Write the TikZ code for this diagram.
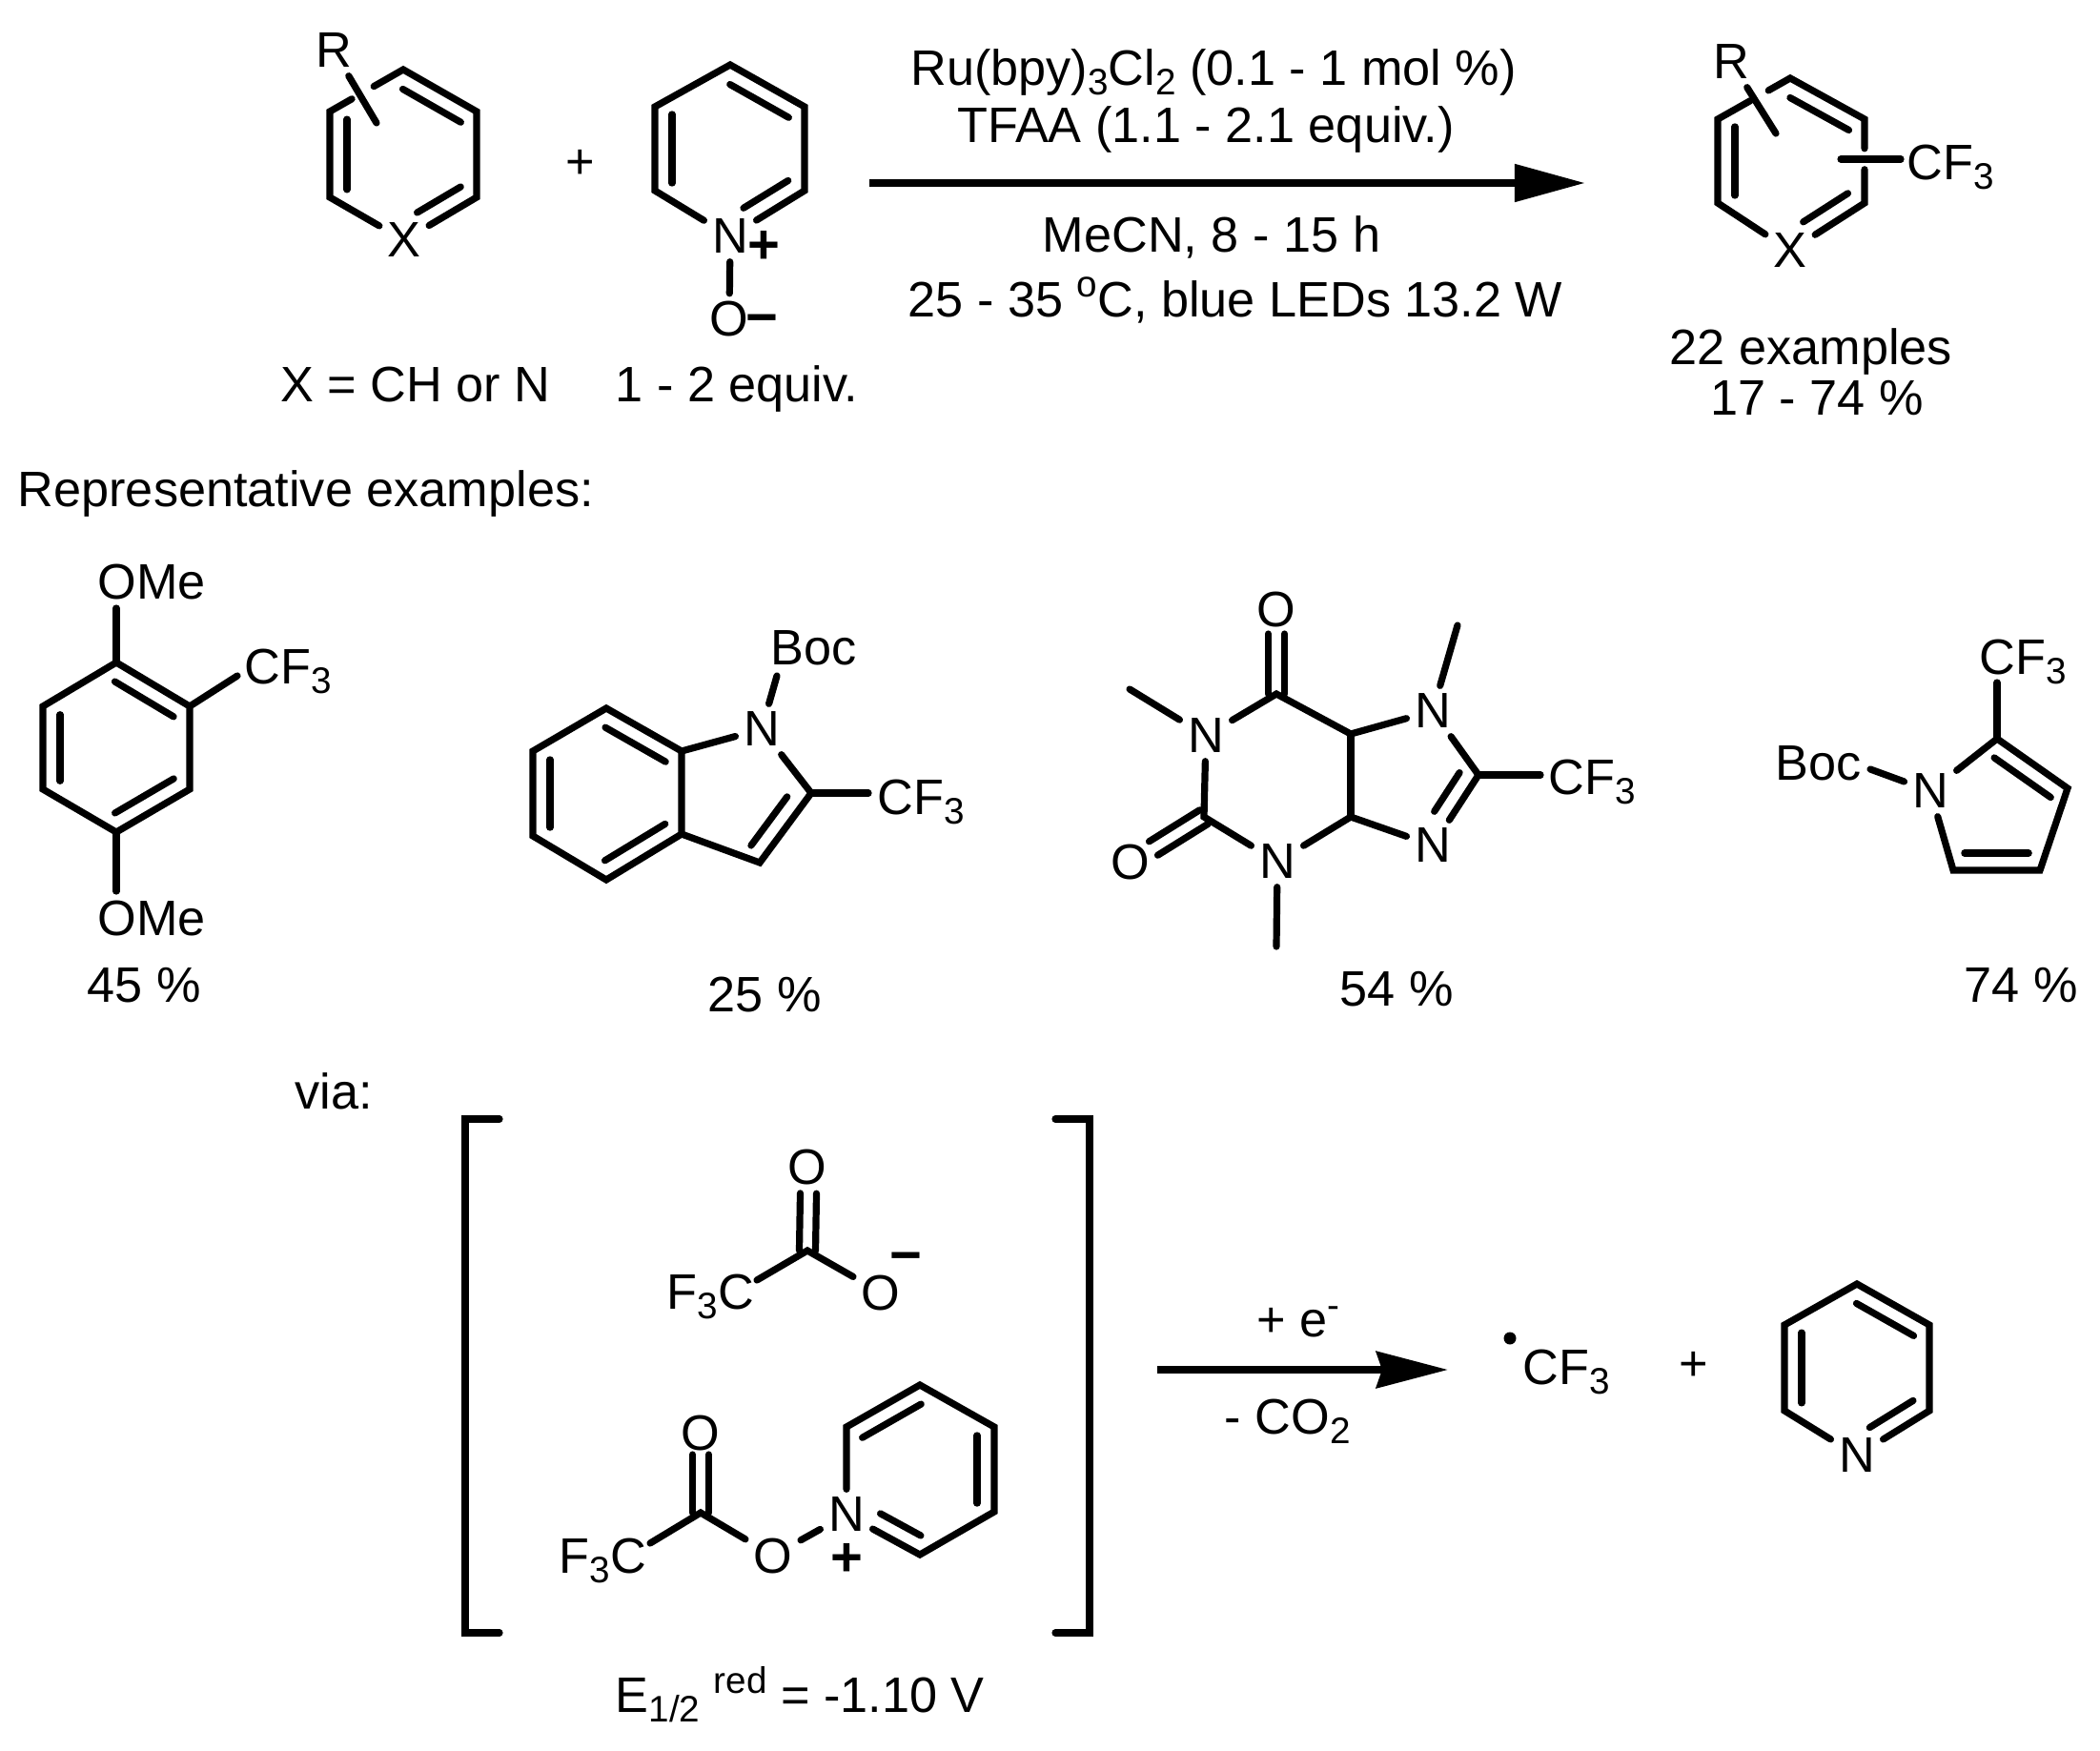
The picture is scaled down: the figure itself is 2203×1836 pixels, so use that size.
\documentclass[tikz,border=0pt]{standalone}
\usepackage{fontspec}
\setmainfont{Liberation Sans}
\usetikzlibrary{arrows.meta,calc}
\newcommand{\sbs}[1]{\raisebox{-0.1cm}{\fontsize{11}{12}\selectfont #1}}
\newcommand{\sps}[1]{\raisebox{0.2cm}{\fontsize{11}{12}\selectfont #1}}
% inner line of a ring double bond (ring walked clockwise)
\newcommand{\inbond}[4]{\draw[bond] ($(#1)!#3!(#2)!0.18cm!-90:(#2)$) -- ($(#1)!#4!(#2)!0.18cm!-90:(#2)$);}
% C=O drawn as two parallel lines
\newcommand{\twobond}[2]{
  \draw[bond] ($(#1)!0.085cm!90:(#2)$) -- ($(#2)!0.085cm!-90:(#1)$);
  \draw[bond] ($(#1)!0.085cm!-90:(#2)$) -- ($(#2)!0.085cm!90:(#1)$);
}
\tikzset{
  % text labels
  lab/.style={font=\fontsize{14.86}{17.8}\selectfont, inner sep=0pt},
  % atom letter that bonds stop at
  atom/.style={lab, inner sep=0.08cm},
  % charge signs
  chg/.style={font=\fontsize{16.5}{20}\selectfont\bfseries, inner sep=0pt},
  % bonds
  bond/.style={line width=0.072cm, line cap=round, line join=miter},
  % reaction arrows
  arr/.style={-{Triangle[length=0.74cm,width=0.38cm]}, line width=0.08cm},
  arrb/.style={-{Stealth[length=0.75cm,width=0.38cm,inset=0.06cm]}, line width=0.08cm},
}
\begin{document}
\begin{tikzpicture}[x=0.01cm,y=-0.01cm]
  \useasboundingbox (0,0) rectangle (2203,1836);

  % Arene reactant
  \coordinate (p1a) at (423,73);
  \coordinate (p1b) at (500,117);
  \coordinate (p1c) at (500,207);
  \coordinate (p1e) at (346,207);
  \coordinate (p1f) at (346,117);
  \coordinate (p1rb) at (395,129);
  \node[atom] (p1x) at (424,252) {X};
  \node[atom] (p1r) at (350,53) {R};
  \draw[bond] ($(p1f)!.6!(p1a)$) -- (p1a) -- (p1b) -- (p1c) -- (p1x);
  \draw[bond] (p1x) -- (p1e) -- (p1f) -- ($(p1f)!.3!(p1a)$);
  \draw[bond] (p1r) -- (p1rb);
  \inbond{p1a}{p1b}{.11}{.9}
  \inbond{p1c}{p1x}{.1}{.7}
  \inbond{p1e}{p1f}{.09}{.91}
  \node[lab] (plus1) at (609,172) {+};

  % Pyridine N-oxide
  \coordinate (p2a) at (766,68);
  \coordinate (p2b) at (844,112);
  \coordinate (p2c) at (844,200);
  \coordinate (p2e) at (687,200);
  \coordinate (p2f) at (687,112);
  \node[atom] (p2n) at (766,248) {N};
  \node[atom] (p2o) at (765,335) {O};
  \node[chg] (p2plus) at (801,259) {+};
  \node[chg] (p2minus) at (799,341) {−};
  \draw[bond] (p2n) -- (p2e) -- (p2f) -- (p2a) -- (p2b) -- (p2c) -- (p2n);
  \draw[bond] (p2n) -- (p2o);
  \inbond{p2a}{p2b}{.11}{.9}
  \inbond{p2c}{p2n}{.1}{.7}
  \inbond{p2e}{p2f}{.09}{.91}
  \node[lab,anchor=base] (xnote) at (436,421) {X = CH or N};
  \node[lab,anchor=base] (eqnote) at (773,421) {1 - 2 equiv.};

  % Main arrow and conditions
  \coordinate (arr1s) at (912,192);
  \coordinate (arr1e) at (1663,192);
  \draw[arr] (arr1s) -- (arr1e);
  \node[lab,anchor=base] (cond1) at (1273,89) {Ru(bpy)\sbs{3}Cl\sbs{2} (0.1 - 1 mol \%)};
  \node[lab,anchor=base] (cond2) at (1265,149) {TFAA (1.1 - 2.1 equiv.)};
  \node[lab,anchor=base] (cond3) at (1271,264) {MeCN, 8 - 15 h};
  \node[lab,anchor=base] (cond4) at (1296,332) {25 - 35 \sps{o}C, blue LEDs 13.2 W};

  % Product
  \coordinate (p3a) at (1878,82);
  \coordinate (p3b) at (1956,125);
  \coordinate (p3c) at (1956,213);
  \coordinate (p3e) at (1802,213);
  \coordinate (p3f) at (1802,125);
  \coordinate (p3rb) at (1863,140);
  \coordinate (p3s) at (1931,167);
  \coordinate (p3t) at (1994,167);
  \node[atom] (p3x) at (1878,263) {X};
  \node[atom] (p3r) at (1816,65) {R};
  \node[lab,anchor=base west] (p3cf) at (2000,188) {CF\sbs{3}};
  \draw[bond] ($(p3f)!.7!(p3a)$) -- (p3a) -- (p3b) -- ($(p3b)!.35!(p3c)$);
  \draw[bond] ($(p3b)!.6!(p3c)$) -- (p3c) -- (p3x);
  \draw[bond] (p3x) -- (p3e) -- (p3f) -- ($(p3f)!.45!(p3a)$);
  \draw[bond] (p3r) -- (p3rb);
  \draw[bond] (p3s) -- (p3t);
  \inbond{p3a}{p3b}{.11}{.9}
  \inbond{p3c}{p3x}{.1}{.7}
  \inbond{p3e}{p3f}{.09}{.91}
  \node[lab,anchor=base] (ex1) at (1900,382) {22 examples};
  \node[lab,anchor=base] (ex2) at (1906,435) {17 - 74 \%};

  \node[lab,anchor=base west] (reptitle) at (18,531) {Representative examples:};

  % Dimethoxy arene
  \coordinate (m1a) at (122,695);
  \coordinate (m1b) at (199,741);
  \coordinate (m1c) at (199,828);
  \coordinate (m1d) at (122,873);
  \coordinate (m1e) at (45,828);
  \coordinate (m1f) at (45,741);
  \coordinate (m1t) at (122,638);
  \coordinate (m1u) at (122,935);
  \coordinate (m1v) at (249,709);
  \node[lab,anchor=base west] (m1ome) at (102,628) {OMe};
  \node[lab,anchor=base west] (m1omeb) at (102,981) {OMe};
  \node[lab,anchor=base west] (m1cf) at (256,717) {CF\sbs{3}};
  \draw[bond] (m1a) -- (m1b) -- (m1c) -- (m1d) -- (m1e) -- (m1f) -- cycle;
  \draw[bond] (m1t) -- (m1a);
  \draw[bond] (m1d) -- (m1u);
  \draw[bond] (m1b) -- (m1v);
  \inbond{m1a}{m1b}{.1}{.9}
  \inbond{m1c}{m1d}{.1}{.9}
  \inbond{m1e}{m1f}{.1}{.9}
  \node[lab,anchor=base] (m1y) at (151,1051) {45 \%};

  % N-Boc indole
  \coordinate (m2a) at (636,743);
  \coordinate (m2b) at (715,788);
  \coordinate (m2c) at (715,875);
  \coordinate (m2d) at (636,923);
  \coordinate (m2e) at (559,877);
  \coordinate (m2f) at (559,788);
  \coordinate (m2g) at (851,832);
  \coordinate (m2h) at (797,905);
  \coordinate (m2i) at (911,832);
  \coordinate (m2j) at (815,709);
  \node[atom] (m2n) at (799,765) {N};
  \node[lab,anchor=base west] (m2boc) at (808,697) {Boc};
  \node[lab,anchor=base west] (m2cf) at (920,854) {CF\sbs{3}};
  \draw[bond] (m2a) -- (m2b) -- (m2c) -- (m2d) -- (m2e) -- (m2f) -- cycle;
  \draw[bond] (m2b) -- (m2n);
  \draw[bond] (m2n) -- (m2g) -- (m2h) -- (m2c);
  \draw[bond] (m2g) -- (m2i);
  \draw[bond] (m2j) -- (m2n);
  \inbond{m2a}{m2b}{.1}{.9}
  \inbond{m2c}{m2d}{.1}{.9}
  \inbond{m2e}{m2f}{.1}{.9}
  \inbond{m2g}{m2h}{.2}{.9}
  \node[lab,anchor=base] (m2y) at (802,1061) {25 \%};

  % Caffeine type product
  \coordinate (m3c2) at (1263,857);
  \coordinate (m3c4) at (1417,857);
  \coordinate (m3c5) at (1417,770);
  \coordinate (m3c6) at (1339,728);
  \coordinate (m3c8) at (1551,813);
  \coordinate (m3oa) at (1339,665);
  \coordinate (m3ob) at (1210,890);
  \coordinate (m3me1) at (1185,723);
  \coordinate (m3me3) at (1339,993);
  \coordinate (m3me7) at (1529,656);
  \coordinate (m3cfb) at (1616,813);
  \node[atom] (m3n1) at (1265,772) {N};
  \node[atom] (m3n3) at (1340,904) {N};
  \node[atom] (m3n7) at (1503,746) {N};
  \node[atom] (m3n9) at (1503,887) {N};
  \node[atom] (m3o6) at (1339,640) {O};
  \node[atom] (m3o2) at (1186,904) {O};
  \node[lab,anchor=base west] (m3cf) at (1624,833) {CF\sbs{3}};
  \draw[bond] (m3n1) -- (m3c6) -- (m3c5) -- (m3n7);
  \draw[bond] (m3n1) -- (m3c2) -- (m3n3);
  \draw[bond] (m3n3) -- (m3c4) -- (m3n9);
  \draw[bond] (m3c4) -- (m3c5);
  \draw[bond] (m3n7) -- (m3c8) -- (m3n9);
  \draw[bond] (m3c8) -- (m3cfb);
  \draw[bond] (m3n1) -- (m3me1);
  \draw[bond] (m3n3) -- (m3me3);
  \draw[bond] (m3n7) -- (m3me7);
  \twobond{m3c6}{m3oa}
  \twobond{m3c2}{m3ob}
  \inbond{m3c8}{m3n9}{.1}{.65}
  \node[lab,anchor=base] (m3y) at (1465,1055) {54 \%};

  % N-Boc pyrrole
  \coordinate (m4b) at (2095,775);
  \coordinate (m4c) at (2169,827);
  \coordinate (m4d) at (2140,913);
  \coordinate (m4e) at (2049,913);
  \coordinate (m4t) at (2095,716);
  \coordinate (m4g) at (1962,807);
  \node[atom] (m4n) at (2025,830) {N};
  \node[lab,anchor=base west] (m4cf) at (2076,707) {CF\sbs{3}};
  \node[lab,anchor=base west] (m4boc) at (1862,818) {Boc};
  \draw[bond] (m4n) -- (m4b) -- (m4c) -- (m4d) -- (m4e) -- (m4n);
  \draw[bond] (m4b) -- (m4t);
  \draw[bond] (m4g) -- (m4n);
  \inbond{m4b}{m4c}{.1}{.9}
  \inbond{m4d}{m4e}{.13}{.87}
  \node[lab,anchor=base] (m4y) at (2120,1051) {74 \%};

  \node[lab,anchor=base west] (viatext) at (309,1163) {via:};

  % Brackets
  \draw[bond] (524,1174) -- (488,1174) -- (488,1713) -- (524,1713);
  \draw[bond] (1107,1174) -- (1143,1174) -- (1143,1713) -- (1107,1713);

  % Trifluoroacetate
  \coordinate (i1c) at (847,1312);
  \coordinate (i1u) at (848,1252);
  \coordinate (i1f) at (794,1343);
  \node[atom] (i1ot) at (847,1224) {O};
  \node[atom] (i1o) at (924,1356) {O};
  \node[chg] (i1minus) at (950,1325) {−};
  \node[lab,anchor=base west] (i1fc) at (699,1373) {F\sbs{3}C};
  \twobond{i1c}{i1u}
  \draw[bond] (i1f) -- (i1c) -- (i1o);
  % Acyloxy pyridinium
  \coordinate (i2c) at (735,1587);
  \coordinate (i2u) at (735,1526);
  \coordinate (i2f) at (682,1619);
  \coordinate (i2a) at (965,1453);
  \coordinate (i2b) at (1043,1497);
  \coordinate (i2d) at (1043,1586);
  \coordinate (i2e) at (965,1631);
  \coordinate (i2g) at (888,1497);
  \node[atom] (i2ot) at (735,1503) {O};
  \node[atom] (i2o) at (811,1632) {O};
  \node[atom] (i2n) at (888,1589) {N};
  \node[chg] (i2plus) at (888,1636) {+};
  \node[lab,anchor=base west] (i2fc) at (586,1650) {F\sbs{3}C};
  \twobond{i2c}{i2u}
  \draw[bond] (i2f) -- (i2c) -- (i2o);
  \draw[bond] (i2o) -- (i2n);
  \draw[bond] (i2n) -- (i2g) -- (i2a) -- (i2b) -- (i2d) -- (i2e) -- (i2n);
  \inbond{i2g}{i2a}{.1}{.9}
  \inbond{i2b}{i2d}{.1}{.9}
  \inbond{i2e}{i2n}{.1}{.65}
  \node[lab,anchor=base west] (potential) at (645,1796) {E\sbs{1/2} \sps{red} = -1.10 V};

  % Lower arrow, radical and pyridine
  \coordinate (arr2s) at (1214,1437);
  \coordinate (arr2e) at (1519,1437);
  \draw[arrb] (arr2s) -- (arr2e);
  \node[lab,anchor=base] (arr2up) at (1362,1402) {+ e\sps{-}};
  \node[lab,anchor=base west] (arr2dn) at (1284,1504) {- CO\sbs{2}};
  \node[circle,fill=black,inner sep=0pt,minimum size=0.13cm] (raddot) at (1584,1404) {};
  \node[lab,anchor=base west] (radcf) at (1597,1452) {CF\sbs{3}};
  \node[lab] (plus2) at (1777,1433) {+};
  \coordinate (p6a) at (1948,1347);
  \coordinate (p6b) at (2024,1390);
  \coordinate (p6c) at (2024,1480);
  \coordinate (p6e) at (1872,1480);
  \coordinate (p6f) at (1872,1390);
  \node[atom] (p6n) at (1948,1527) {N};
  \draw[bond] (p6n) -- (p6e) -- (p6f) -- (p6a) -- (p6b) -- (p6c) -- (p6n);
  \inbond{p6a}{p6b}{.11}{.9}
  \inbond{p6c}{p6n}{.1}{.7}
  \inbond{p6e}{p6f}{.09}{.91}
\end{tikzpicture}
\end{document}
